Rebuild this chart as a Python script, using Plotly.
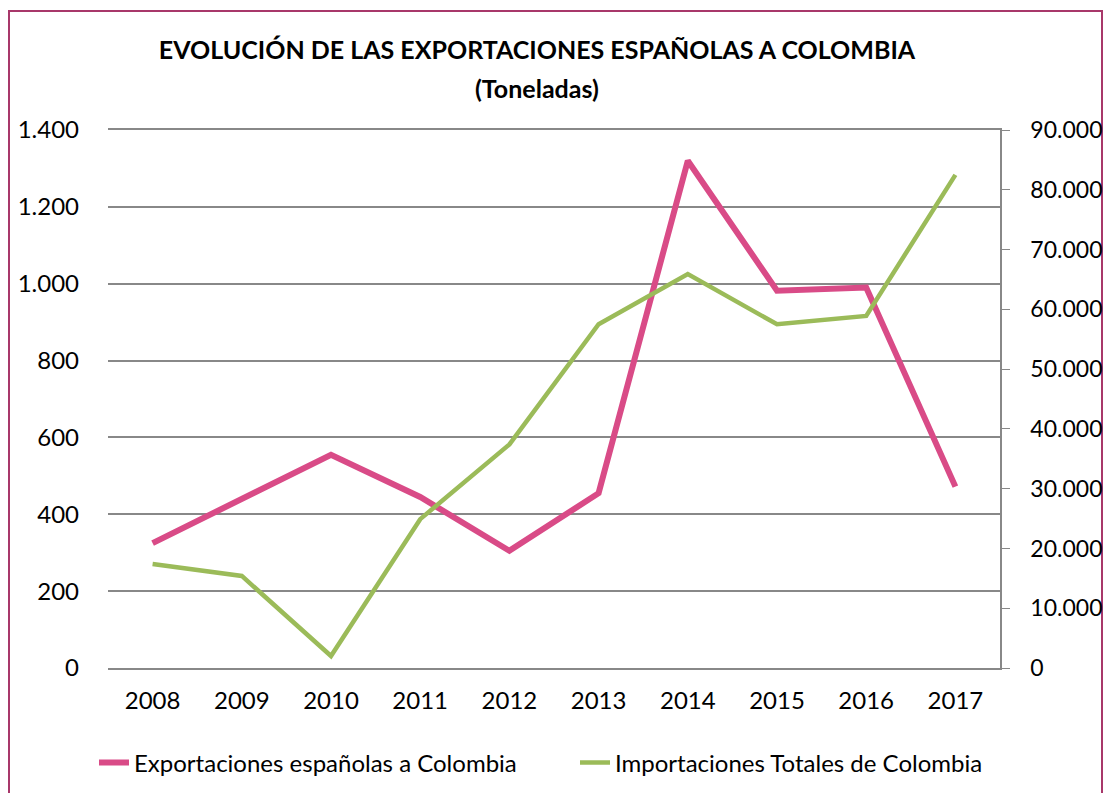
import plotly.graph_objs as go

years = ["2008", "2009", "2010", "2011", "2012", "2013", "2014", "2015", "2016", "2017"]
exportaciones_es = [325, 440, 555, 445, 305, 455, 1320, 982, 990, 472]
importaciones_col = [17400, 15400, 2000, 24900, 37400, 57500, 65900, 57500, 58900, 82500]

left_ticks = [0, 200, 400, 600, 800, 1000, 1200, 1400]
right_ticks = [0, 10000, 20000, 30000, 40000, 50000, 60000, 70000, 80000, 90000]

FONT = "Lato, 'Open Sans', sans-serif"
PINK = "#D94B87"
GREEN = "#9BBB59"
GRID = "#888888"

W, H = 1104, 793
L, R, T, B = 108, 104, 130, 125
PW, PH = W - L - R, H - T - B


def px_x(x):
    # page pixel -> paper coordinate
    return (x - L) / PW


def px_y(y):
    return (H - B - y) / PH


fig = go.Figure()

fig.add_trace(go.Scatter(
    x=years, y=exportaciones_es,
    name="Exportaciones españolas a Colombia",
    mode="lines",
    line=dict(color=PINK, width=6),
))

fig.add_trace(go.Scatter(
    x=years, y=importaciones_col,
    name="Importaciones Totales de Colombia",
    mode="lines",
    line=dict(color=GREEN, width=4.5),
    yaxis="y2",
))

# chart border (outer frame, like the spreadsheet chart area)
fig.add_shape(type="rect", xref="paper", yref="paper",
              x0=px_x(9), x1=px_x(1102), y0=px_y(830), y1=px_y(11),
              line=dict(color="#A8386A", width=2), layer="below")

fig.add_annotation(text="<b>(Toneladas)</b>", xref="paper", yref="paper",
                   x=px_x(537), y=px_y(88), xanchor="center", yanchor="middle",
                   showarrow=False, font=dict(family=FONT, size=25, color="#000000"))

fig.update_layout(
    width=W, height=H,
    margin=dict(l=L, r=R, t=T, b=B, autoexpand=False),
    paper_bgcolor="white",
    plot_bgcolor="white",
    separators=",.",
    font=dict(family=FONT, size=24, color="#000000"),
    title=dict(
        text="<b>EVOLUCIÓN DE LAS EXPORTACIONES ESPAÑOLAS A COLOMBIA</b>",
        x=537 / W, xanchor="center",
        y=1 - 50 / H, yanchor="middle",
        font=dict(family=FONT, size=25, color="#000000"),
    ),
    xaxis=dict(
        type="category",
        automargin=False,
        showgrid=False,
        showline=True,
        mirror=True,
        linecolor=GRID,
        linewidth=1.5,
        ticks="",
        tickfont=dict(size=24),
        ticklabelstandoff=10,
        range=[-0.5, 9.5],
    ),
    yaxis=dict(
        range=[0, 1400],
        automargin=False,
        tickvals=left_ticks,
        tickformat=",d",
        showgrid=True,
        gridcolor=GRID,
        gridwidth=1.5,
        zeroline=True,
        zerolinecolor=GRID,
        zerolinewidth=1.5,
        showline=False,
        ticks="",
        ticklabelstandoff=28,
        tickfont=dict(size=24),
    ),
    yaxis2=dict(
        range=[0, 90000],
        automargin=False,
        tickvals=right_ticks,
        tickformat=",d",
        overlaying="y",
        side="right",
        showgrid=False,
        zeroline=False,
        showline=True,
        linecolor=GRID,
        linewidth=1.5,
        ticks="outside",
        ticklen=8,
        tickcolor=GRID,
        ticklabelstandoff=16,
        tickfont=dict(size=23),
    ),
    legend=dict(
        orientation="h",
        x=px_x(94), xanchor="left",
        y=px_y(763), yanchor="middle",
        font=dict(size=24),
        entrywidth=436,
        entrywidthmode="pixels",
        bgcolor="rgba(0,0,0,0)",
    ),
    showlegend=True,
)

# drop the default body margin so the figure fills the window exactly
fig.write_html(
    "out.html",
    config={"displayModeBar": False},
    post_script="document.body.style.margin='0';document.body.style.overflow='hidden';",
)
